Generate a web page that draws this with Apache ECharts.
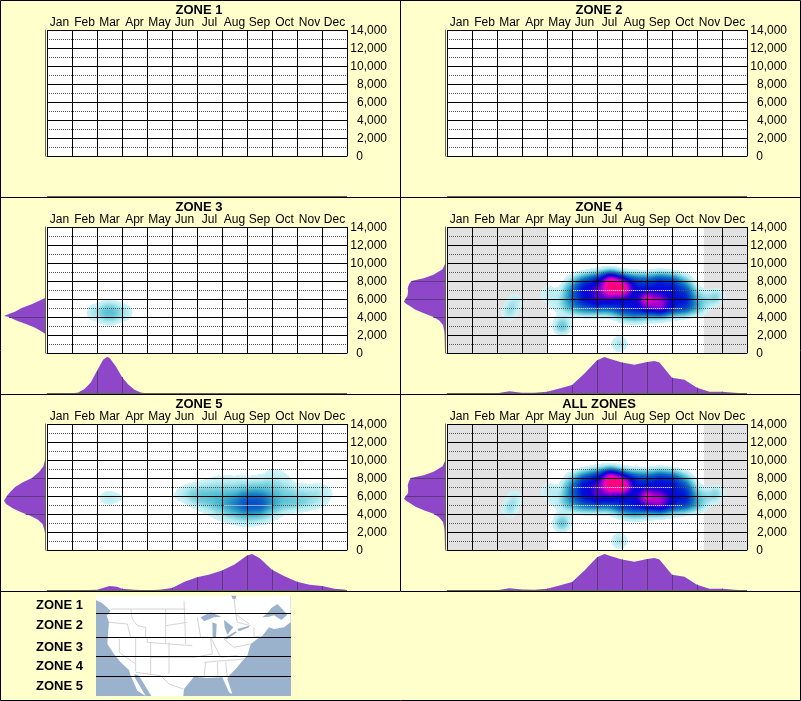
<!DOCTYPE html>
<html><head><meta charset="utf-8"><style>html,body{margin:0;padding:0;background:#ffffcc}#c{width:801px;height:701px}</style>
<script src="https://cdn.jsdelivr.net/npm/echarts@6/dist/echarts.min.js"></script></head><body><div id="c"></div>
<script>
const months=['Jan','Feb','Mar','Apr','May','Jun','Jul','Aug','Sep','Oct','Nov','Dec'];
const zoneTitles=['ZONE 1','ZONE 2','ZONE 3','ZONE 4','ZONE 5','ALL ZONES'];
const mapLabels=['ZONE 1','ZONE 2','ZONE 3','ZONE 4','ZONE 5'];
const heatZone3=[[2.5,4500,.2],[2,4500,.12],[3,4500,.12],[1.6,4500,.06],[3.4,4500,.06],[2.5,5300,.13],[2.5,3700,.13],[2,5100,.06],[3,5100,.06],[2,3900,.06],[3,3900,.06]];
const heatZone4=[
[6,9000,.06],[6.5,9000,.1],[7,9000,.05],[8.5,9000,.03],
[5,8000,.15],[5.5,8000,.4],[6,8000,.55],[6.5,8000,.8],[7,8000,.5],[7.5,8000,.45],[8,8000,.4],[8.5,8000,.5],[9,8000,.45],[9.5,8000,.2],
[4.5,7000,.06],[5,7000,.3],[5.5,7000,.55],[6,7000,.65],[6.5,7000,1],[7,7000,.9],[7.5,7000,.5],[8,7000,.45],[8.5,7000,.5],[9,7000,.5],[9.5,7000,.4],[10,7000,.1],
[4,6000,.05],[4.5,6000,.1],[5,6000,.3],[5.5,6000,.5],[6,6000,.7],[6.5,6000,.6],[7,6000,.45],[7.5,6000,.5],[8,6000,.9],[8.5,6000,.65],[9,6000,.5],[9.5,6000,.5],[10,6000,.2],[10.5,6000,.08],
[4,5000,.04],[4.5,5000,.1],[5,5000,.25],[5.5,5000,.35],[6,5000,.35],[6.5,5000,.35],[7,5000,.5],[7.5,5000,.55],[8,5000,.6],[8.5,5000,.7],[9,5000,.5],[9.5,5000,.45],[10,5000,.25],[10.5,5000,.05],
[7,4000,.12],[7.5,4000,.2],[8,4000,.12],[8.5,4000,.1],[9,4000,.05],
[6.6,7700,.8],[7,7300,.8],[8.1,5700,.35],[8.6,5500,.35],
[2.5,4500,.2],[2.7,5800,.17],[4.6,3000,.3],[6.9,1000,.2],[4,6800,.12],[10.7,6200,.18],[11,6500,.07]];
const heatZone5=[
[9,9000,.05],[9.5,9000,.04],
[6.5,8000,.04],[7,8000,.07],[7.5,8000,.07],[8,8000,.06],[8.5,8000,.08],[9,8000,.1],[9.5,8000,.08],
[5.5,7000,.06],[6,7000,.1],[6.5,7000,.12],[7,7000,.12],[7.5,7000,.12],[8,7000,.14],[8.5,7000,.15],[9,7000,.15],[9.5,7000,.12],[10,7000,.08],[10.5,7000,.08],[11,7000,.08],[11.5,7000,.03],
[5,6000,.06],[5.5,6000,.14],[6,6000,.2],[6.5,6000,.2],[7,6000,.2],[7.5,6000,.22],[8,6000,.3],[8.5,6000,.3],[9,6000,.22],[9.5,6000,.16],[10,6000,.15],[10.5,6000,.14],[11,6000,.12],[11.5,6000,.05],
[6,5000,.1],[6.5,5000,.15],[7,5000,.22],[7.5,5000,.3],[8,5000,.4],[8.5,5000,.4],[9,5000,.25],[9.5,5000,.18],[10,5000,.18],[10.5,5000,.12],[11,5000,.06],
[6.5,4000,.06],[7,4000,.11],[7.5,4000,.17],[8,4000,.22],[8.5,4000,.2],[9,4000,.11],[9.5,4000,.04],
[7,3000,.03],[7.5,3000,.06],[8,3000,.08],[8.5,3000,.06],[9,3000,.03],
[2.6,5800,.14],[3.2,5800,.08],[2.2,5800,.08]];
const heatAll=heatZone4;
const histBottom3=[[0,0],[1,0],[1.25,3],[1.5,12],[1.75,30],[2,62],[2.25,93],[2.4,100],[2.5,98],[2.75,75],[3,45],[3.25,25],[3.5,10],[3.75,3],[4,0],[5,0],[6,0],[7,0],[8,0],[9,0],[10,0],[11,0],[12,0]];
const histBottom4=[[0,0],[1,0],[2,1],[2.5,6],[3,2],[3.5,2],[4,5],[4.5,14],[5,23],[5.5,55],[6,91],[6.3,100],[6.5,95],[7,85],[7.5,79],[8,86],[8.3,89],[8.5,85],[9,43],[9.5,38],[10,16],[10.5,5],[11,5],[11.5,2],[12,0]];
const histBottom5=[[0,0],[1,0],[2,2],[2.5,12],[2.8,10],[3,5],[3.5,2],[4,1],[4.5,2],[5,7],[5.5,24],[6,36],[6.5,44],[7,55],[7.5,71],[8,96],[8.2,100],[8.5,89],[9,57],[9.5,39],[10,24],[10.5,16],[11,12],[11.5,5],[12,2]];
const histBottomAll=[[0,0],[1,0],[2,1],[2.5,6],[3,3],[3.5,2],[4,5],[4.5,14],[5,23],[5.5,55],[6,91],[6.3,100],[6.5,95],[7,85],[7.5,79],[8,86],[8.3,89],[8.5,85],[9,43],[9.5,38],[10,16],[10.5,5],[11,5],[11.5,2],[12,0]];
const histLeft3=[[0,6100],[14,5800],[34,5400],[57,5000],[72,4600],[90,4300],[100,4100],[88,4000],[70,3600],[45,3200],[24,2800],[8,2400],[0,2150]];
const histLeft4=[[0,9900],[6,9300],[28,8700],[52,8300],[82,8000],[88,7600],[91,7200],[90,6800],[92,6300],[97,6000],[100,5700],[96,5500],[85,5200],[72,4800],[50,4400],[28,4000],[14,3600],[5,3100],[2,2500],[1,2000],[0,0]];
const histLeft5=[[0,10000],[4,9300],[14,8700],[32,8000],[55,7500],[73,7000],[86,6400],[93,6000],[100,5460],[95,5100],[78,4600],[58,4200],[47,4000],[36,3800],[18,3400],[6,2900],[2,2300],[0,1860]];
const histLeftAll=[[0,9900],[6,9300],[28,8700],[52,8300],[84,8000],[88,7600],[91,7200],[90,6800],[90,6300],[96,6000],[100,5700],[96,5500],[85,5200],[72,4800],[50,4400],[26,4000],[14,3600],[5,3100],[2,2500],[1,2000],[0,0]];
const greyBands=[[0,4],[10.27,12]];
const brightDots4=[[5.05,9,7000],[5.05,9.4,5000]];
const brightDots5=[[7.1,9,5000]];
const yTickLabels={0:'0',2000:'2,000',4000:'4,000',6000:'6,000',8000:'8,000',10000:'10,000',12000:'12,000',14000:'14,000'};

const panels=[
 {x:47,y:30,heat:[],bottom:[],left:[],bands:[],dots:[]},
 {x:447,y:30,heat:[],bottom:[],left:[],bands:[],dots:[]},
 {x:47,y:227,heat:heatZone3,bottom:histBottom3,left:histLeft3,bands:[],dots:[]},
 {x:447,y:227,heat:heatZone4,bottom:histBottom4,left:histLeft4,bands:greyBands,dots:brightDots4},
 {x:47,y:424,heat:heatZone5,bottom:histBottom5,left:histLeft5,bands:[],dots:brightDots5},
 {x:447,y:424,heat:heatAll,bottom:histBottomAll,left:histLeftAll,bands:greyBands,dots:brightDots4}
];
const PURPLE='#8d47c8',DARK='#5a3a7a',AXIS='#66664e',FONT='"Liberation Sans",Arial,sans-serif';
echarts.registerMap('plane',{type:'FeatureCollection',features:[{type:'Feature',properties:{name:'p'},geometry:{type:'Polygon',coordinates:[[[0,0],[12,0],[12,14000],[0,14000],[0,0]]]}}]});
const option={animation:false,backgroundColor:'#ffffcc',title:[],grid:[],xAxis:[],yAxis:[],geo:[],series:[],
 visualMap:[{show:false,type:'continuous',min:0,max:1,seriesIndex:[],calculable:false,
  inRange:{color:['rgba(210,245,248,0)','rgba(210,245,248,.5)','rgba(185,236,242,.9)','#80d4e0','#50bcd2','#2a98c4','#1070c4','#0a50c8','#0030d0','#0010d8','#1000d8','#5000d4','#a000d0','#f000c0','#ff0080','#ff0050']}}]};
panels.forEach((p,i)=>{
 option.title.push({text:zoneTitles[i],left:p.x+152,top:p.y-26,textAlign:'center',padding:0,textStyle:{fontFamily:FONT,fontSize:13,fontWeight:'bold',color:'#000'}});
 const g=option.grid.length;
 option.grid.push({left:p.x,top:p.y,width:300,height:126,show:true,backgroundColor:'#fff',borderWidth:0,z:0});
 option.grid.push({left:p.x-43,top:p.y,width:41,height:126});
 option.grid.push({left:p.x,top:p.y+130,width:300,height:36.5});
 const xa=option.xAxis.length,ya=option.yAxis.length;
 option.xAxis.push({gridIndex:g,type:'category',data:months,position:'top',boundaryGap:true,z:3,
  axisLine:{show:true,lineStyle:{color:'#000'}},axisTick:{show:false},
  axisLabel:{interval:0,color:'#000',fontFamily:FONT,fontSize:12,margin:1},
  splitLine:{show:true,interval:0,lineStyle:{color:'#000',width:1}}});
 option.xAxis.push({gridIndex:g,type:'value',min:0,max:12,show:false,splitLine:{show:false}});
 option.xAxis.push({gridIndex:g+1,type:'value',min:0,max:100,inverse:true,show:false,splitLine:{show:false}});
 option.xAxis.push({gridIndex:g+2,type:'value',min:0,max:12,show:false,splitLine:{show:false}});
 option.yAxis.push({gridIndex:g,type:'value',min:0,max:14000,interval:2000,position:'right',z:3,
  axisLine:{show:false},axisTick:{show:false},
  axisLabel:{color:'#000',fontFamily:FONT,fontSize:12,margin:40,align:'right',padding:[2,0,0,0],
   formatter:v=>v===0?'{z|0}':yTickLabels[v],rich:{z:{fontFamily:FONT,fontSize:12,color:'#000',padding:[0,24,0,0]}}},
  splitLine:{show:true,lineStyle:{color:'#000',width:1}},
  minorTick:{show:false,splitNumber:2},minorSplitLine:{show:true,lineStyle:{color:'#555',width:1,type:[1,1]}}});
 option.yAxis.push({gridIndex:g+1,type:'value',min:0,max:14000,position:'right',
  axisLine:{show:true,onZero:false,lineStyle:{color:AXIS,width:1}},axisTick:{show:false},axisLabel:{show:false},splitLine:{show:false}});
 option.yAxis.push({gridIndex:g+2,type:'value',min:0,max:100,
  axisLine:{show:false},axisTick:{show:false},axisLabel:{show:false},splitLine:{show:false}});
 option.series.push({type:'line',xAxisIndex:xa+1,yAxisIndex:ya,data:[],silent:true,
  markArea:{silent:true,z:1,itemStyle:{color:'#e2e2e2'},data:p.bands.map(b=>[{xAxis:b[0],yAxis:0},{xAxis:b[1],yAxis:14000}])},
  markLine:{silent:true,z:5,symbol:'none',label:{show:false},lineStyle:{color:'#fff',width:1,type:[1,1]},
   data:p.dots.map(d=>[{coord:[d[0],d[2]]},{coord:[d[1],d[2]]}])}});
 const gi=option.geo.length;
 option.geo.push({map:'plane',left:p.x,top:p.y,width:300,height:126,aspectScale:2777.78,roam:false,silent:true,z:0,
  boundingCoords:[[0,14000],[12,0]],label:{show:false},itemStyle:{areaColor:'rgba(0,0,0,0)',borderWidth:0},emphasis:{disabled:true},select:{disabled:true}});
 option.visualMap[0].seriesIndex.push(option.series.length);
 option.series.push({type:'heatmap',coordinateSystem:'geo',geoIndex:gi,data:p.heat,pointSize:8,blurSize:10,minOpacity:1,maxOpacity:1,z:2,silent:true});
 const L=p.left;
 option.series.push({type:'custom',xAxisIndex:xa+2,yAxisIndex:ya+1,data:L,silent:true,clip:true,encode:{x:0,y:1},
  renderItem:(params,api)=>{ if(params.dataIndex!==0||!L.length) return;
   const pts=L.map(q=>api.coord(q));
   pts.push(api.coord([0,L[L.length-1][1]]));pts.push(api.coord([0,L[0][1]]));
   return {type:'polygon',shape:{points:pts},style:{fill:PURPLE}};},
  markLine:{silent:true,z:5,symbol:'none',label:{show:false},lineStyle:{color:DARK,width:1,type:'solid'},
   data:L.filter(q=>q[1]%2000===0&&q[1]>0&&q[0]>3).map(q=>[{coord:[0,q[1]]},{coord:q}])}});
 option.series.push({type:'line',xAxisIndex:xa+3,yAxisIndex:ya+2,data:p.bottom,symbol:'none',silent:true,
  lineStyle:{width:0},areaStyle:{color:PURPLE,opacity:1},
  markLine:{silent:true,z:5,symbol:'none',label:{show:false},lineStyle:{color:DARK,width:1,type:'solid'},
   data:p.bottom.filter(q=>Number.isInteger(q[0])&&q[0]>0&&q[0]<12&&q[1]>3).map(q=>[{coord:[q[0],0]},{coord:q}])}});
 option.series.push({type:'line',xAxisIndex:xa+3,yAxisIndex:ya+2,data:[[0,0],[12,0]],symbol:'none',silent:true,z:6,clip:false,lineStyle:{color:AXIS,width:1}});
});
const lx=(X,Y)=>[94+X/3,594+Y/3], rx=(X,Y)=>[194+X/3,594+Y/3];
const OCEAN='#9ab2cc',STATE='#d4d4d4';
const land=[lx(5,5),rx(290,5),rx(290,85),rx(270,100),rx(240,105),rx(225,100),rx(205,125),rx(190,135),rx(170,150),rx(160,185),rx(150,195),rx(125,225),rx(105,245),rx(100,255),rx(115,300),rx(105,295),rx(85,250),rx(40,252),rx(0,248),lx(270,285),lx(268,306),lx(172,306),lx(135,245),lx(122,240),lx(122,250),lx(155,306),lx(130,290),lx(110,245),lx(105,228),lx(80,205),lx(60,180),lx(40,150),lx(42,120),lx(45,85),lx(38,65),lx(50,50),lx(25,28),lx(5,18)];
const water=[
 [rx(205,70),rx(220,58),rx(232,42),rx(250,30),rx(262,42),rx(280,62),rx(262,78),rx(240,64),rx(225,68)],
 [rx(20,70),rx(50,55),rx(82,68),rx(60,70),rx(30,82)],
 [rx(55,85),rx(68,90),rx(66,130),rx(56,128)],
 [rx(90,78),rx(118,100),rx(100,122),rx(92,100)],
 [rx(90,133),rx(125,112),rx(128,116),rx(98,136)],
 [rx(130,105),rx(165,95),rx(165,100),rx(135,112)],
 [rx(112,5),rx(128,5),rx(124,15),rx(116,15)]];
const stateLines=[
 [lx(50,45),lx(275,45)],[lx(110,45),lx(115,75),lx(130,95),lx(155,100),lx(155,130)],[lx(45,85),lx(100,90),lx(110,130),lx(160,130),lx(160,145),lx(295,155)],[lx(76,135),lx(76,175),lx(125,210),lx(125,232)],[lx(125,130),lx(125,210)],[lx(170,145),lx(170,240)],[lx(170,190),lx(225,190),lx(300,190)],[lx(225,145),lx(225,190),lx(225,240)],[lx(215,45),lx(215,150)],[lx(215,95),lx(280,85)],[lx(125,235),lx(200,245),lx(225,270),lx(268,285)],[lx(270,20),lx(275,150)],
 [rx(0,130),rx(50,130),rx(55,180),rx(0,190)],[rx(90,135),rx(120,160),rx(170,150)],[rx(50,130),rx(80,190),rx(130,185)],[rx(30,205),rx(150,195)],[rx(35,205),rx(30,250)],[rx(70,205),rx(72,250)],[rx(95,205),rx(100,250)],[rx(10,70),rx(20,130)],[rx(125,60),rx(130,85),rx(170,95)],[rx(180,100),rx(180,130),rx(200,125)],[rx(120,10),rx(125,60),rx(165,90)]];
const g=[];
g.push({type:'rect',z:20,silent:true,shape:{x:.5,y:.5,width:800,height:700},style:{fill:'none',stroke:'#000',lineWidth:1}});
[197,394,591].forEach(y=>g.push({type:'line',z:20,silent:true,shape:{x1:0,y1:y+.5,x2:801,y2:y+.5},style:{stroke:'#000',lineWidth:1}}));
g.push({type:'line',z:20,silent:true,shape:{x1:400.5,y1:0,x2:400.5,y2:591},style:{stroke:'#000',lineWidth:1}});
g.push({type:'rect',z:20,silent:true,shape:{x:96,y:596,width:195,height:100},style:{fill:OCEAN}});
g.push({type:'polygon',z:21,silent:true,shape:{points:land},style:{fill:'#fff'}});
stateLines.forEach(s=>g.push({type:'polyline',z:22,silent:true,shape:{points:s},style:{stroke:STATE,fill:'none',lineWidth:1}}));
water.forEach(s=>g.push({type:'polygon',z:23,silent:true,shape:{points:s},style:{fill:OCEAN}}));
[613,637,656,676].forEach(y=>g.push({type:'line',z:24,silent:true,shape:{x1:96,y1:y+.5,x2:291,y2:y+.5},style:{stroke:'#000',lineWidth:1}}));
const labelY=[605,625,647,666,686];
mapLabels.forEach((t,i)=>g.push({type:'text',z:24,silent:true,x:83,y:labelY[i],style:{text:t,align:'right',verticalAlign:'middle',font:'bold 13px '+FONT,fill:'#000'}}));
option.graphic=g;
const chart=echarts.init(document.getElementById('c'));
chart.setOption(option);
</script></body></html>
